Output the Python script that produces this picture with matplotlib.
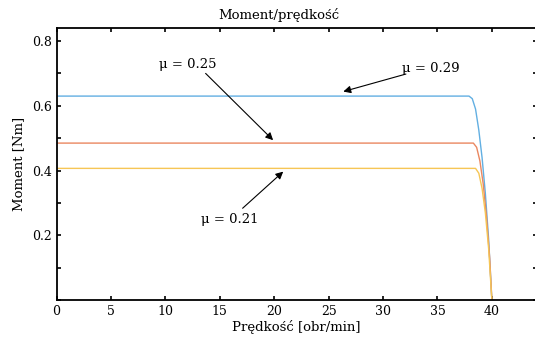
import matplotlib
matplotlib.use("Agg")
import matplotlib.pyplot as plt
from matplotlib.ticker import MultipleLocator

plt.rcParams["font.family"] = ["DejaVu Serif"]

# predkosc [obr/min] / moment [Nm]
speed_029 = [0, 37.9, 38.2, 38.5, 38.8, 39.1, 39.4, 39.7, 40.0]
torque_029 = [0.630, 0.630, 0.622, 0.590, 0.525, 0.440, 0.330, 0.190, 0.0]

speed_025 = [0, 38.3, 38.6, 38.9, 39.2, 39.5, 39.8, 40.0]
torque_025 = [0.485, 0.485, 0.472, 0.430, 0.360, 0.260, 0.130, 0.0]

speed_021 = [0, 38.5, 38.8, 39.1, 39.4, 39.7, 40.0]
torque_021 = [0.407, 0.407, 0.392, 0.345, 0.270, 0.160, 0.0]

x_ticks = [0, 5, 10, 15, 20, 25, 30, 35, 40]
y_ticks = [0.2, 0.4, 0.6, 0.8]

fig = plt.figure(figsize=(5.35, 3.38), dpi=100)
ax = fig.add_axes([56.5 / 535, 1 - 300.3 / 338, (536.5 - 56.5) / 535, (300.3 - 27.7) / 338])

ax.plot(speed_029, torque_029, color="#62afe2", lw=1.0)
ax.plot(speed_025, torque_025, color="#ea8760", lw=1.0)
ax.plot(speed_021, torque_021, color="#f6c655", lw=1.0)

ax.set_xlim(0, 44.1)
ax.set_ylim(0, 0.841)
ax.set_xticks(x_ticks)
ax.set_yticks(y_ticks)
ax.yaxis.set_minor_locator(MultipleLocator(0.1))
ax.tick_params(which="both", direction="in", length=3, width=1.2,
               top=True, right=True, labelsize=9)
for s in ax.spines.values():
    s.set_linewidth(1.3)
ax.spines["right"].set_visible(False)

ax.set_xlabel("Prędkość [obr/min]", fontsize=9.5, labelpad=1)
ax.set_ylabel("Moment [Nm]", fontsize=9.5, labelpad=5)
fig.text(278.5 / 535, 1 - 15 / 338, "Moment/prędkość", fontsize=9.5,
         ha="center", va="center")

# labels and arrows (tail, head) in data units
arrow = dict(arrowstyle="-|>", color="black", lw=0.8, mutation_scale=11,
             shrinkA=0, shrinkB=0)
ax.text(12.1, 0.729, "μ = 0.25", ha="center", va="center", fontsize=9.5)
ax.annotate("", xy=(19.9, 0.494), xytext=(13.7, 0.70), arrowprops=arrow)
ax.text(34.4, 0.714, "μ = 0.29", ha="center", va="center", fontsize=9.5)
ax.annotate("", xy=(26.35, 0.644), xytext=(32.1, 0.698), arrowprops=arrow)
ax.text(15.88, 0.248, "μ = 0.21", ha="center", va="center", fontsize=9.5)
ax.annotate("", xy=(20.83, 0.397), xytext=(17.1, 0.284), arrowprops=arrow)

fig.savefig("out.png", dpi=100)
